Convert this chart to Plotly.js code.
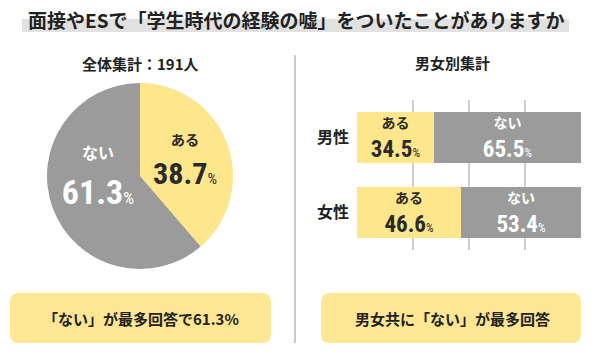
<!DOCTYPE html>
<html>
<head>
<meta charset="utf-8">
<script src="https://cdn.plot.ly/plotly-3.0.1.min.js"></script>
<style>html,body{margin:0;padding:0;background:#fff;}#chart{width:600px;height:355px;}</style>
</head>
<body>
<div id="chart"></div>
<script>
// ---- data ----
const chartTitle = '面接やESで「学生時代の経験の嘘」をついたことがありますか';
const pieTitle = '全体集計：191人';
const barTitle = '男女別集計';
const answers = ['ある', 'ない'];
const totalValues = [38.7, 61.3];
const genders = ['男性', '女性'];
const yesByGender = [34.5, 46.6];
const noByGender = [65.5, 53.4];
const leftNote = '「ない」が最多回答で61.3%';
const rightNote = '男女共に「ない」が最多回答';

// ---- style ----
const YELLOW = '#fde68c';
const GRAY = '#9b9b9b';
const BOX = '#fde794';
const JP = '"Noto Sans CJK JP", "Noto Sans", sans-serif';
const NUM = '"Roboto Condensed", "Liberation Sans Narrow", "DejaVu Sans Condensed", sans-serif';
const W = 600, H = 355;
const px = x => x / W;
const py = y => 1 - y / H;

function label(ans, v, big, small) {
  return '<span style="font-family:Noto Sans CJK JP;font-weight:bold;font-size:' + small + 'px">' + ans + '</span><br>' +
    '<b>' + v.toFixed(1) + '</b><span style="font-weight:normal;font-size:' + Math.round(big * 0.5) + 'px">%</span>';
}

const pie = {
  type: 'pie',
  labels: answers,
  values: totalValues,
  sort: false,
  direction: 'clockwise',
  rotation: 0,
  marker: {colors: [YELLOW, GRAY], line: {width: 0}},
  text: answers.map((a, i) => label(a, totalValues[i], 34, 16)),
  textinfo: 'text',
  textposition: 'inside',
  insidetextorientation: 'horizontal',
  textfont: {family: NUM, size: 34, color: ['#2a2a2a', '#ffffff'], weight: 'bold'},
  hoverinfo: 'none',
  showlegend: false,
  domain: {x: [px(47), px(233)], y: [py(269), py(83)]}
};

const barCommon = {
  type: 'bar', orientation: 'h',
  width: 0.667,
  textposition: 'inside', insidetextanchor: 'middle',
  textangle: 0,
  constraintext: 'none',
  hoverinfo: 'none', showlegend: false,
  xaxis: 'x', yaxis: 'y'
};
const barYes = Object.assign({}, barCommon, {
  y: genders, x: yesByGender,
  marker: {color: YELLOW, line: {width: 0}},
  text: yesByGender.map(v => label('ある', v, 23, 14)),
  textfont: {family: NUM, size: 23, color: '#2a2a2a', weight: 'bold'}
});
const barNo = Object.assign({}, barCommon, {
  y: genders, x: noByGender,
  marker: {color: GRAY, line: {width: 0}},
  text: noByGender.map(v => label('ない', v, 23, 14)),
  textfont: {family: NUM, size: 23, color: '#ffffff', weight: 'bold'}
});

function pathPaper(x0, y0, x1, y1, r) {
  const P = (x, y) => `${px(x)},${py(y)}`;
  return `M${P(x0 + r, y0)} L${P(x1 - r, y0)} Q${P(x1, y0)} ${P(x1, y0 + r)} L${P(x1, y1 - r)} Q${P(x1, y1)} ${P(x1 - r, y1)} L${P(x0 + r, y1)} Q${P(x0, y1)} ${P(x0, y1 - r)} L${P(x0, y0 + r)} Q${P(x0, y0)} ${P(x0 + r, y0)} Z`;
}

const layout = {
  width: W, height: H,
  margin: {l: 0, r: 0, t: 0, b: 0},
  paper_bgcolor: '#ffffff', plot_bgcolor: 'rgba(0,0,0,0)',
  barmode: 'stack',
  font: {family: JP, color: '#222'},
  xaxis: {
    domain: [px(357), px(581)], range: [0, 100], fixedrange: true,
    showgrid: true, gridcolor: '#cfcfcf', gridwidth: 1.5, dtick: 25,
    zeroline: false, showticklabels: false, ticks: '', showline: false
  },
  yaxis: {
    domain: [py(250), py(100)], range: [1.5, -0.5], autorange: false,
    type: 'category', showgrid: false, zeroline: false, showline: false,
    ticks: '', ticklabelstandoff: 7,
    tickfont: {family: JP, size: 16, color: '#222', weight: 'bold'}
  },
  shapes: [
    {type: 'rect', xref: 'paper', yref: 'paper', x0: px(22), x1: px(569), y0: py(32), y1: py(19),
      fillcolor: '#e1e1e1', line: {width: 0}, layer: 'below'},
    {type: 'line', xref: 'paper', yref: 'paper', x0: px(295), x1: px(295), y0: py(55), y1: py(343),
      line: {color: '#cccccc', width: 2}},
    {type: 'path', xref: 'paper', yref: 'paper', path: pathPaper(10, 293, 271, 343, 9),
      fillcolor: BOX, line: {width: 0}, layer: 'below'},
    {type: 'path', xref: 'paper', yref: 'paper', path: pathPaper(321, 293, 581, 343, 9),
      fillcolor: BOX, line: {width: 0}, layer: 'below'}
  ],
  annotations: [
    {text: chartTitle, xref: 'paper', yref: 'paper', x: px(296), y: py(19), xanchor: 'center', yanchor: 'middle',
      showarrow: false, font: {family: JP, size: 19, color: '#222', weight: 'bold'}},
    {text: pieTitle, xref: 'paper', yref: 'paper', x: px(140), y: py(64), xanchor: 'center', yanchor: 'middle',
      showarrow: false, font: {family: JP, size: 15, color: '#222', weight: 'bold'}},
    {text: barTitle, xref: 'paper', yref: 'paper', x: px(452), y: py(63), xanchor: 'center', yanchor: 'middle',
      showarrow: false, font: {family: JP, size: 15, color: '#222', weight: 'bold'}},
    {text: leftNote, xref: 'paper', yref: 'paper', x: px(141), y: py(318), xanchor: 'center', yanchor: 'middle',
      showarrow: false, font: {family: JP, size: 15, color: '#222', weight: 'bold'}},
    {text: rightNote, xref: 'paper', yref: 'paper', x: px(452), y: py(318), xanchor: 'center', yanchor: 'middle',
      showarrow: false, font: {family: JP, size: 15, color: '#222', weight: 'bold'}}
  ]
};

Plotly.newPlot('chart', [pie, barYes, barNo], layout, {staticPlot: true, displayModeBar: false});
</script>
</body>
</html>
